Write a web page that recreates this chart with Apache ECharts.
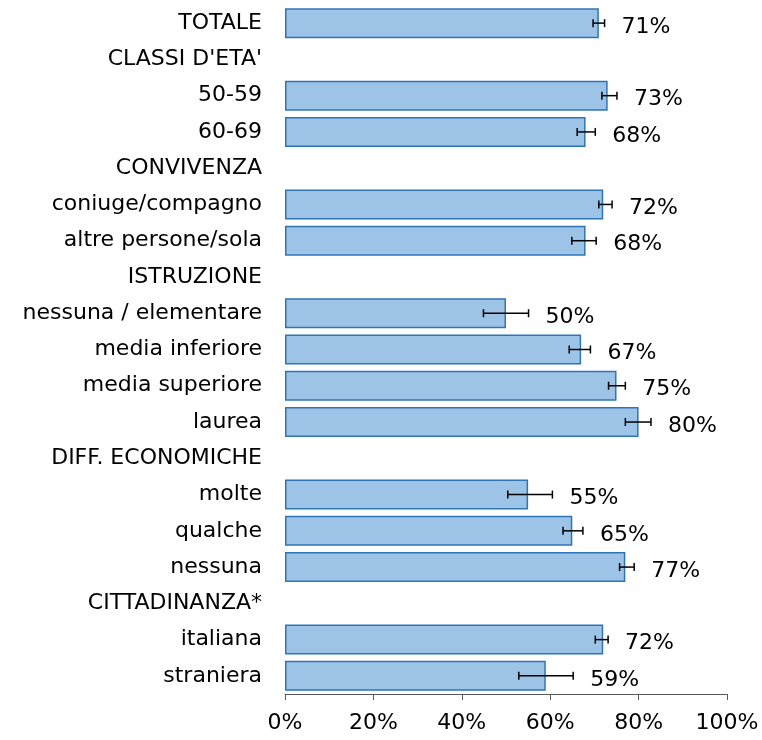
<!DOCTYPE html>
<html>
<head>
<meta charset="utf-8">
<script src="https://cdn.jsdelivr.net/npm/echarts@6/dist/echarts.min.js"></script>
<style>
  html, body { margin: 0; padding: 0; background: #fff; }
  #chart { width: 762px; height: 740px; }
</style>
</head>
<body>
<div id="chart"></div>
<script>
// Categories (group headers have no bar)
var categories = ['TOTALE', "CLASSI D'ETA'", '50-59', '60-69', 'CONVIVENZA',
  'coniuge/compagno', 'altre persone/sola', 'ISTRUZIONE', 'nessuna / elementare',
  'media inferiore', 'media superiore', 'laurea', 'DIFF. ECONOMICHE', 'molte',
  'qualche', 'nessuna', 'CITTADINANZA*', 'italiana', 'straniera'];

// Percentages
var values = [71, null, 73, 68, null, 72, 68, null, 50, 67, 75, 80, null, 55, 65, 77, null, 72, 59];

// 95% confidence interval bounds
var lower = [69.7, null, 71.7, 66.1, null, 71.0, 64.9, null, 44.9, 64.3, 73.2, 77.0, null, 50.4, 62.9, 75.7, null, 70.2, 52.9];
var upper = [72.3, null, 75.1, 70.2, null, 74.0, 70.4, null, 55.1, 69.1, 77.0, 82.8, null, 60.5, 67.4, 79.0, null, 73.1, 65.2];

// Axis ticks
var tickValues = [0, 20, 40, 60, 80, 100];

var FONT = 'DejaVu Sans';

var errData = [];
for (var i = 0; i < categories.length; i++) {
  if (values[i] != null) errData.push([i, lower[i], upper[i], values[i]]);
}

var chart = echarts.init(document.getElementById('chart'));
chart.setOption({
  animation: false,
  grid: { left: 285, right: 35, top: 5, bottom: 46, containLabel: false },
  xAxis: {
    type: 'value',
    min: tickValues[0],
    max: tickValues[tickValues.length - 1],
    interval: tickValues[1] - tickValues[0],
    axisLine: { show: true, lineStyle: { color: '#595959', width: 1 } },
    axisTick: { show: true, length: 6, lineStyle: { color: '#595959' } },
    splitLine: { show: false },
    axisLabel: {
      formatter: '{value}%', color: '#000', fontFamily: FONT, fontSize: 22, margin: 18
    }
  },
  yAxis: {
    type: 'category',
    data: categories,
    inverse: true,
    axisLine: { show: false },
    axisTick: { show: false },
    axisLabel: { color: '#000', fontFamily: FONT, fontSize: 22, margin: 23 }
  },
  series: [
    {
      type: 'bar',
      data: values,
      barWidth: 30,
      itemStyle: { color: '#9DC3E6', borderColor: '#2E75B6', borderWidth: 1.5 }
    },
    {
      type: 'custom',
      data: errData,
      z: 10,
      encode: { x: [1, 2], y: 0 },
      renderItem: function (params, api) {
        var cat = api.value(0);
        var lo = api.coord([api.value(1), cat]);
        var hi = api.coord([api.value(2), cat]);
        var y = lo[1];
        var cap = 4;
        var st = { stroke: '#000', lineWidth: 1.5 };
        return {
          type: 'group',
          children: [
            { type: 'line', shape: { x1: lo[0], y1: y, x2: hi[0], y2: y }, style: st },
            { type: 'line', shape: { x1: lo[0], y1: y - cap, x2: lo[0], y2: y + cap }, style: st },
            { type: 'line', shape: { x1: hi[0], y1: y - cap, x2: hi[0], y2: y + cap }, style: st },
            {
              type: 'text',
              style: {
                x: hi[0] + 17, y: y + 4,
                text: Math.round(api.value(3)) + '%',
                fill: '#000', font: '22px "' + FONT + '"',
                textAlign: 'left', textVerticalAlign: 'middle'
              }
            }
          ]
        };
      }
    }
  ]
});
</script>
</body>
</html>
